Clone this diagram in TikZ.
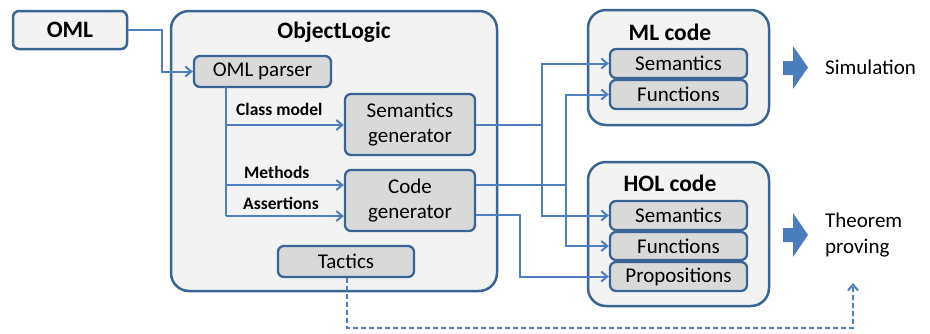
\documentclass[tikz,border=0pt]{standalone}
\usepackage{fontspec}
\setmainfont{Carlito}
\usetikzlibrary{arrows.meta}
\definecolor{bord}{HTML}{3A6494}
\definecolor{conn}{HTML}{4F7FBF}
\definecolor{outerfill}{HTML}{F3F3F3}
\definecolor{innerfill}{HTML}{D9D9D9}
\definecolor{bigarrow}{HTML}{4A7DBE}
\tikzset{
  outerbox/.style={draw=bord, line width=2.5pt, fill=outerfill, rounded corners=18pt, inner sep=0pt},
  innerbox/.style={draw=bord, line width=2.3pt, fill=innerfill, rounded corners=6pt, inner sep=0pt, align=center,
     font=\fontsize{21}{25}\selectfont},
  titletxt/.style={font=\fontsize{23.5}{26}\selectfont\bfseries, inner sep=0pt},
  lbl/.style={font=\fontsize{17.5}{19}\selectfont\bfseries, inner sep=0pt, anchor=west},
  plain/.style={font=\fontsize{21}{26}\selectfont, inner sep=0pt, anchor=west, align=left},
  conn/.style={draw=conn, line width=2pt},
  arr/.style={conn, -{Straight Barb[length=6pt,width=10pt,line width=2pt]}},
}
\begin{document}
\begin{tikzpicture}[x=1pt,y=-1pt]
\useasboundingbox (0,0) rectangle (930,333);
% OML
\node[outerbox, rounded corners=6pt, minimum width=114pt, minimum height=38pt, font=\fontsize{23.5}{26}\selectfont\bfseries] (oml) at (70,30) {OML};
% ObjectLogic
\node[outerbox, minimum width=326pt, minimum height=280pt] (ol) at (334,151) {};
\node[titletxt] (oltitle) at (334,32) {ObjectLogic};
\node[innerbox, minimum width=137pt, minimum height=31pt] (parser) at (262.5,71.5) {OML parser};
\node[innerbox, minimum width=130pt, minimum height=61pt] (semgen) at (410,124.5) {Semantics\\generator};
\node[innerbox, minimum width=130pt, minimum height=61pt] (codegen) at (410,200.5) {Code\\generator};
\node[innerbox, minimum width=136pt, minimum height=31pt] (tactics) at (346,261.5) {Tactics};
% ML code
\node[outerbox, minimum width=181pt, minimum height=115pt] (ml) at (678.5,67.5) {};
\node[titletxt] (mltitle) at (670,32) {ML code};
\node[innerbox, minimum width=137pt, minimum height=29pt] (mlsem) at (678.5,63.5) {Semantics};
\node[innerbox, minimum width=137pt, minimum height=29pt] (mlfun) at (678.5,94.5) {Functions};
% HOL code
\node[outerbox, minimum width=181pt, minimum height=144pt] (hol) at (678.5,234) {};
\node[titletxt] (holtitle) at (670,183) {HOL code};
\node[innerbox, minimum width=137pt, minimum height=29pt] (holsem) at (678.5,215.5) {Semantics};
\node[innerbox, minimum width=137pt, minimum height=28pt] (holfun) at (678.5,246) {Functions};
\node[innerbox, minimum width=137pt, minimum height=29pt] (holprop) at (678.5,276.5) {Propositions};
% outputs
\node[plain] (sim) at (825,67) {Simulation};
\node[plain] (thm) at (825,235) {Theorem\\proving};
% big arrows
\fill[bigarrow] (783,61) -- (793,61) -- (793,46) -- (808,67.5) -- (793,89) -- (793,75) -- (783,75) -- cycle;
\fill[bigarrow] (783,228) -- (793,228) -- (793,213) -- (808,235) -- (793,257) -- (793,242) -- (783,242) -- cycle;
% coordinates
\coordinate (a) at (162,30);
\coordinate (pv) at (226,87);
\coordinate (pend) at (226,216);
\coordinate (sv) at (542,125);
\coordinate (cv) at (566,185);
\coordinate (cp) at (520,215);
\coordinate (d1) at (347,328);
\coordinate (d2) at (853,328);
\coordinate (d3) at (853,283);
% connectors
\draw[arr] (oml.east |- a) -- (a) |- (parser.west);
\draw[conn] (pv) -- (pend);
\draw[arr] (226,125) -- (semgen.west |- 0,125);
\draw[arr] (226,185) -- (codegen.west |- 0,185);
\draw[arr] (pend) -- (codegen.west |- pend);
\node[lbl] (lcm) at (236,109) {Class model};
\node[lbl] (lme) at (244,172) {Methods};
\node[lbl] (las) at (243,203) {Assertions};
\draw[conn] (semgen.east |- sv) -- (sv);
\draw[arr] (sv) -- (sv |- mlsem.west) -- (mlsem.west);
\draw[arr] (sv) -- (sv |- holsem.west) -- (holsem.west);
\draw[conn] (codegen.east |- cv) -- (cv);
\draw[arr] (cv) -- (cv |- mlfun.west) -- (mlfun.west);
\draw[arr] (cv) -- (cv |- holfun.west) -- (holfun.west);
\draw[arr] (codegen.east |- cp) -- (cp) |- (holprop.west);
\draw[arr, dash pattern=on 5pt off 3pt] (tactics.south -| d1) -- (d1) -- (d2) -- (d3);
\end{tikzpicture}
\end{document}
